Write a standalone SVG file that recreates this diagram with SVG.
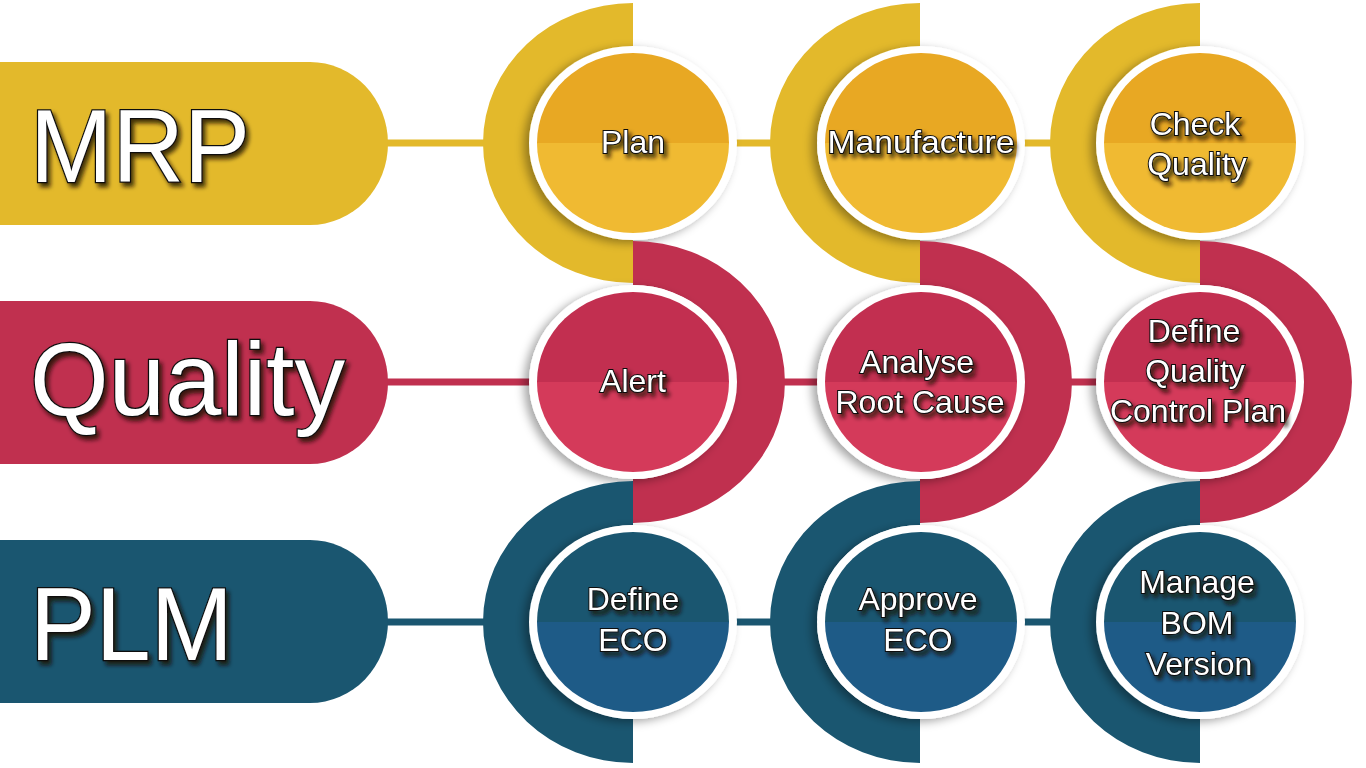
<svg xmlns="http://www.w3.org/2000/svg" width="1366" height="768" viewBox="0 0 1366 768">
<defs>
<filter id="csh" x="-30%" y="-30%" width="160%" height="160%">
<feDropShadow dx="-5" dy="3" stdDeviation="5" flood-color="#000" flood-opacity="0.35"/>
</filter>
<filter id="tsh" x="-20%" y="-30%" width="140%" height="160%">
<feDropShadow dx="3" dy="4" stdDeviation="2" flood-color="#1a1000" flood-opacity="0.8"/>
</filter>
</defs>
<style>
.big{font-family:"Liberation Sans",Arial,sans-serif;font-size:103px;fill:#fff;stroke:#111;stroke-width:2.5;paint-order:stroke;filter:url(#tsh)}
.lbl{font-family:"Liberation Sans",Arial,sans-serif;font-size:32px;fill:#fff;stroke:#111;stroke-width:2;paint-order:stroke;text-anchor:middle;filter:url(#tsh)}
.white{fill:#fff;filter:url(#csh)}
.y-ring{fill:#E3B92B}.y-top{fill:#E8A823}.y-bot{fill:#F0BA32}
.r-ring{fill:#C0304F}.r-top{fill:#C22F50}.r-bot{fill:#D43A5A}
.t-ring{fill:#1A5670}.t-top{fill:#1A5670}.t-bot{fill:#1E5B87}
.ln{stroke-width:7;fill:none}
</style>
<rect width="1366" height="768" fill="#fff"/>

<g id="connectors">
<line class="ln" x1="380" y1="143" x2="1150" y2="143" stroke="#E3B92B"/>
<line class="ln" x1="380" y1="382" x2="1150" y2="382" stroke="#C0304F"/>
<line class="ln" x1="380" y1="622" x2="1150" y2="622" stroke="#1A5670"/>
</g>

<g id="mrp">
<path class="y-ring" d="M0,62 H310 A78 81.5 0 0 1 310,225 H0 Z"/>
<text class="big" x="30" y="182" textLength="220" lengthAdjust="spacingAndGlyphs">MRP</text>
</g>
<g id="quality">
<path class="r-ring" d="M0,301 H310 A78 81.5 0 0 1 310,464 H0 Z"/>
<text class="big" x="30" y="415" textLength="315" lengthAdjust="spacingAndGlyphs">Quality</text>
</g>
<g id="plm">
<path class="t-ring" d="M0,540 H310 A78 81.5 0 0 1 310,703 H0 Z"/>
<text class="big" x="30" y="660" textLength="203" lengthAdjust="spacingAndGlyphs">PLM</text>
</g>

<g id="plan">
<path class="y-ring" d="M633,3 A150 140 0 0 0 633,283 L633,239 A103 96 0 0 1 633,47 Z"/>
<ellipse class="white" cx="633" cy="143" rx="104" ry="97"/>
<path class="y-top" d="M537,143 A96 90 0 0 1 729,143 Z"/>
<path class="y-bot" d="M537,143 A96 90 0 0 0 729,143 Z"/>
<text class="lbl" x="633" y="153">Plan</text>
</g>
<g id="manufacture">
<path class="y-ring" d="M920,3 A150 140 0 0 0 920,283 L920,239 A103 96 0 0 1 920,47 Z"/>
<ellipse class="white" cx="921" cy="143" rx="104" ry="97"/>
<path class="y-top" d="M825,143 A96 90 0 0 1 1017,143 Z"/>
<path class="y-bot" d="M825,143 A96 90 0 0 0 1017,143 Z"/>
<text class="lbl" x="921" y="153" textLength="187" lengthAdjust="spacingAndGlyphs">Manufacture</text>
</g>
<g id="check-quality">
<path class="y-ring" d="M1200,3 A150 140 0 0 0 1200,283 L1200,239 A103 96 0 0 1 1200,47 Z"/>
<ellipse class="white" cx="1200" cy="143" rx="104" ry="97"/>
<path class="y-top" d="M1104,143 A96 90 0 0 1 1296,143 Z"/>
<path class="y-bot" d="M1104,143 A96 90 0 0 0 1296,143 Z"/>
<text class="lbl" x="1195" y="135">Check</text>
<text class="lbl" x="1197" y="175">Quality</text>
</g>

<g id="alert">
<path class="r-ring" d="M633,241 A152 141 0 0 1 633,523 L633,479 A103 97 0 0 0 633,285 Z"/>
<ellipse class="white" cx="633" cy="382" rx="104" ry="97"/>
<path class="r-top" d="M537,382 A96 90 0 0 1 729,382 Z"/>
<path class="r-bot" d="M537,382 A96 90 0 0 0 729,382 Z"/>
<text class="lbl" x="633" y="392">Alert</text>
</g>
<g id="analyse-root-cause">
<path class="r-ring" d="M920,241 A152 141 0 0 1 920,523 L920,479 A103 97 0 0 0 920,285 Z"/>
<ellipse class="white" cx="921" cy="382" rx="104" ry="97"/>
<path class="r-top" d="M825,382 A96 90 0 0 1 1017,382 Z"/>
<path class="r-bot" d="M825,382 A96 90 0 0 0 1017,382 Z"/>
<text class="lbl" x="917" y="373">Analyse</text>
<text class="lbl" x="920" y="413">Root Cause</text>
</g>
<g id="define-qcp">
<path class="r-ring" d="M1200,241 A152 141 0 0 1 1200,523 L1200,479 A103 97 0 0 0 1200,285 Z"/>
<ellipse class="white" cx="1200" cy="382" rx="104" ry="97"/>
<path class="r-top" d="M1104,382 A96 90 0 0 1 1296,382 Z"/>
<path class="r-bot" d="M1104,382 A96 90 0 0 0 1296,382 Z"/>
<text class="lbl" x="1194" y="342">Define</text>
<text class="lbl" x="1195" y="382">Quality</text>
<text class="lbl" x="1198" y="422">Control Plan</text>
</g>

<g id="define-eco">
<path class="t-ring" d="M633,481 A150 141 0 0 0 633,763 L633,719 A103 97 0 0 1 633,525 Z"/>
<ellipse class="white" cx="633" cy="622" rx="104" ry="97"/>
<path class="t-top" d="M537,622 A96 90 0 0 1 729,622 Z"/>
<path class="t-bot" d="M537,622 A96 90 0 0 0 729,622 Z"/>
<text class="lbl" x="633" y="610">Define</text>
<text class="lbl" x="633" y="651">ECO</text>
</g>
<g id="approve-eco">
<path class="t-ring" d="M920,481 A150 141 0 0 0 920,763 L920,719 A103 97 0 0 1 920,525 Z"/>
<ellipse class="white" cx="921" cy="622" rx="104" ry="97"/>
<path class="t-top" d="M825,622 A96 90 0 0 1 1017,622 Z"/>
<path class="t-bot" d="M825,622 A96 90 0 0 0 1017,622 Z"/>
<text class="lbl" x="918" y="610">Approve</text>
<text class="lbl" x="918" y="651">ECO</text>
</g>
<g id="manage-bom">
<path class="t-ring" d="M1200,481 A150 141 0 0 0 1200,763 L1200,719 A103 97 0 0 1 1200,525 Z"/>
<ellipse class="white" cx="1200" cy="622" rx="104" ry="97"/>
<path class="t-top" d="M1104,622 A96 90 0 0 1 1296,622 Z"/>
<path class="t-bot" d="M1104,622 A96 90 0 0 0 1296,622 Z"/>
<text class="lbl" x="1197" y="593">Manage</text>
<text class="lbl" x="1197" y="634">BOM</text>
<text class="lbl" x="1199" y="675">Version</text>
</g>
</svg>
